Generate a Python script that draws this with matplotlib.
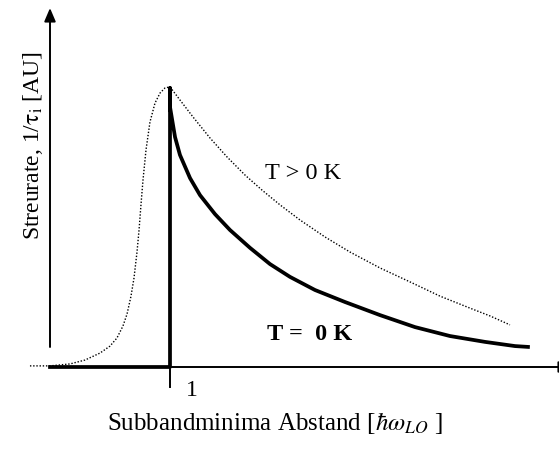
import matplotlib
matplotlib.use("Agg")
import matplotlib.pyplot as plt

plt.rcParams["font.family"] = ["Liberation Serif", "DejaVu Serif"]
plt.rcParams["mathtext.fontset"] = "stix"

# T > 0 K: verbreiterte Streurate (punktiert)
warm_x = [-0.167, 0.0, 0.167, 0.292, 0.417, 0.5, 0.558, 0.608, 0.642, 0.675,
          0.7, 0.725, 0.742, 0.758, 0.775, 0.8, 0.833, 0.875, 0.917, 0.958,
          1.0, 1.083, 1.192, 1.333, 1.475, 1.625, 1.767, 1.917, 2.083, 2.292,
          2.5, 2.75, 3.0, 3.25, 3.5, 3.667, 3.833]
warm_y = [0.004, 0.004, 0.011, 0.025, 0.050, 0.075, 0.104, 0.147, 0.190, 0.254,
          0.319, 0.412, 0.491, 0.581, 0.670, 0.778, 0.878, 0.946, 0.982, 1.0,
          1.004, 0.957, 0.896, 0.821, 0.753, 0.688, 0.634, 0.581, 0.527, 0.466,
          0.412, 0.355, 0.305, 0.254, 0.211, 0.183, 0.151]

# T = 0 K: Stufe bei 1, danach Abfall
cold_x = [0.0, 1.0, 1.0, 1.0, 1.042, 1.083, 1.167, 1.25, 1.375, 1.5, 1.667,
          1.833, 2.0, 2.208, 2.458, 2.75, 3.042, 3.333, 3.625, 3.875, 3.983]
cold_y = [0.0, 0.0, 1.0, 0.932, 0.824, 0.760, 0.677, 0.616, 0.548, 0.491, 0.427,
          0.369, 0.323, 0.276, 0.233, 0.186, 0.143, 0.111, 0.090, 0.075, 0.072]

x_tick = 1
x_tick_label = "1"

fig = plt.figure(figsize=(5.59, 4.5), dpi=100)
ax = fig.add_axes([0, 0, 1, 1])
ax.set_xlim(-50 / 120, 509 / 120)
ax.set_ylim(-83 / 279, 367 / 279)
ax.axis("off")

arrow = dict(arrowstyle="-|>,head_length=0.4,head_width=0.17", lw=1.4,
             color="black", shrinkA=0, shrinkB=0, mutation_scale=20)
ax.annotate("", xy=(0, 359 / 279), xytext=(0, 20 / 279), arrowprops=arrow,
            annotation_clip=False)
# x-Achse: Pfeilspitze liegt fast ganz außerhalb des Bildes
ax.annotate("", xy=(4.35, 0), xytext=(0, 0), arrowprops=arrow,
            annotation_clip=False)
ax.plot([x_tick, x_tick], [0, -0.072], color="black", lw=1.4)

ax.plot(warm_x, warm_y, color="black", lw=1.0, linestyle=(0, (1, 1.3)))
ax.plot(cold_x, cold_y, color="black", lw=2.7, solid_joinstyle="round")

ax.text(x_tick + 0.183, -0.047, x_tick_label, ha="center", va="top", fontsize=17)
ax.text(1.792, 0.674, "T > 0 K", ha="left", va="baseline", fontsize=17.5)
ax.text(1.808, 0.097, "T =  0 K", ha="left", va="baseline", fontsize=17.5,
        fontweight="bold")

ax.text(0.475, -0.226, r"Subbandminima Abstand [$\hbar\omega_{LO}$ ]",
        ha="left", va="baseline", fontsize=18)
ax.text(-0.142, 0.792, r"Streurate, 1/$\mathrm{\tau}_{\mathrm{i}}$ [AU]",
        ha="center", va="center", rotation=90, fontsize=17)

fig.savefig("out.png", dpi=100)
